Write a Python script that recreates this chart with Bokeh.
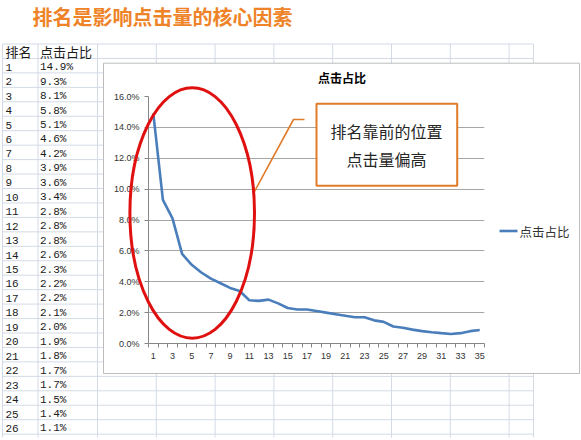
import numpy as np
from bokeh.plotting import figure
from bokeh.models import (Range1d, FixedTicker, NumeralTickFormatter, Label,
                          BoxAnnotation, ColumnDataSource)
from bokeh.core.properties import value
from bokeh.embed import file_html
from bokeh.resources import INLINE

# ---------------- data ----------------
ranks = list(range(1, 36))
click_share_pct = [14.9, 9.3, 8.1, 5.8, 5.1, 4.6, 4.2, 3.9, 3.6, 3.4,
                   2.8, 2.76, 2.84, 2.6, 2.3, 2.2, 2.2, 2.1, 2.0, 1.9,
                   1.8, 1.7, 1.7, 1.5, 1.4, 1.1, 1.02, 0.9, 0.8, 0.73,
                   0.67, 0.62, 0.67, 0.8, 0.88]
table_rows = 26
table_header = ["排名", "点击占比"]
series_name = "点击占比"
page_title = "排名是影响点击量的核心因素"
chart_title = "点击占比"
callout_lines = ["排名靠前的位置", "点击量偏高"]
x_tick_labels = list(range(1, 36, 2))
y_tick_values = [0.0, 0.02, 0.04, 0.06, 0.08, 0.10, 0.12, 0.14, 0.16]

# ---------------- layout constants ----------------
W, H = 581, 440
OFF = 0
FL, FR, FT, FB = 148, 484, 96, 343
XMIN, XMAX = 0.5, 35.5
YMIN, YMAX = 0.0, 0.16


def dx(px):
    return XMIN + (px - OFF - FL) * (XMAX - XMIN) / (FR - FL)


def dy(py):
    return YMIN + (FB - (py - OFF)) * (YMAX - YMIN) / (FB - FT)


CJK = "Noto Sans CJK SC"
ORANGE = "#EE8327"
CALLOUT = "#E07B2A"
GRID_SHEET = "#D3DAE6"
BLUE = "#4A7EBB"

p = figure(width=W, height=H, output_backend="svg", toolbar_location=None,
           x_range=Range1d(XMIN, XMAX), y_range=Range1d(YMIN, YMAX),
           min_border_left=FL, min_border_right=W - FR,
           min_border_top=FT, min_border_bottom=H - FB)
p.outline_line_color = None
p.background_fill_color = "white"
p.border_fill_color = "white"
p.xgrid.visible = False
p.ygrid.grid_line_color = "#A6A6A6"
p.ygrid.ticker = FixedTicker(ticks=y_tick_values)

# axes
p.yaxis.ticker = FixedTicker(ticks=y_tick_values)
p.yaxis.formatter = NumeralTickFormatter(format="0.0%")
p.yaxis.axis_line_color = "#868686"
p.yaxis.major_tick_line_color = "#868686"
p.yaxis.major_tick_out = 4
p.yaxis.major_tick_in = 0
p.yaxis.minor_tick_line_color = None
p.yaxis.major_label_standoff = 5
p.yaxis.major_label_text_font = "Liberation Sans"
p.yaxis.major_label_text_font_size = "9px"
p.yaxis.major_label_text_color = "#333333"

p.xaxis.ticker = FixedTicker(ticks=x_tick_labels,
                             minor_ticks=[r - 0.5 for r in ranks] + [ranks[-1] + 0.5])
p.xaxis.axis_line_color = "#868686"
p.xaxis.major_tick_line_color = None
p.xaxis.major_tick_out = 4
p.xaxis.major_tick_in = 0
p.xaxis.minor_tick_line_color = "#868686"
p.xaxis.minor_tick_out = 4
p.xaxis.minor_tick_in = 0
p.xaxis.major_label_standoff = 5
p.xaxis.major_label_text_font = "Liberation Sans"
p.xaxis.major_label_text_font_size = "9px"
p.xaxis.major_label_text_color = "#333333"

# spreadsheet grid (outside the chart box)
BOX_L, BOX_T, BOX_R, BOX_B = 103, 62.7, 579, 373
col_x = [2, 37.5, 97, 155.8, 214.6, 273.4, 332.2, 391, 449.8, 508.6, 533]
row_y = [43.5 + 14.45 * k for k in range(28)]
xs, ys = [], []
for cx in col_x:
    if BOX_L < cx < BOX_R:
        xs += [[dx(cx), dx(cx)], [dx(cx), dx(cx)]]
        ys += [[dy(43.5), dy(BOX_T)], [dy(BOX_B), dy(437)]]
    else:
        xs.append([dx(cx), dx(cx)])
        ys.append([dy(43.5), dy(437)])
for ry in row_y:
    if ry < BOX_T or ry > BOX_B:
        xs.append([dx(2), dx(533)])
    else:
        xs.append([dx(2), dx(BOX_L)])
    ys.append([dy(ry), dy(ry)])
p.multi_line(xs, ys, line_color=GRID_SHEET, line_width=1, level="overlay")

# chart box border
p.multi_line([[dx(BOX_L), dx(BOX_R), dx(BOX_R), dx(BOX_L), dx(BOX_L)]],
             [[dy(BOX_T), dy(BOX_T), dy(BOX_B), dy(BOX_B), dy(BOX_T)]],
             line_color="#BDBDBD", line_width=1, level="overlay")

# series
src = ColumnDataSource(dict(rank=ranks, share=[v / 100 for v in click_share_pct]))
line_r = p.line("rank", "share", source=src, line_color=BLUE, line_width=2.6)

# legend (drawn beside the plot area)
p.line([dx(499), dx(517)], [dy(230.5), dy(230.5)], line_color=BLUE, line_width=2.6,
       level="overlay")
p.text(x=[dx(519)], y=[dy(230.5)], text=[series_name], text_font=value(CJK),
       text_font_size="12.5px", text_color="#333333", text_baseline="middle",
       level="overlay")

# table
tbl_rank_x, tbl_val_x = 5, 39.5
p.text(x=[dx(tbl_rank_x), dx(tbl_val_x)], y=[dy(51), dy(51)], text=table_header,
       text_font=value(CJK), text_font_size="13px", text_color="#1a1a1a",
       text_baseline="middle", level="overlay")
p.text(x=[dx(tbl_rank_x)] * table_rows,
       y=[dy(59.5 + 14.45 * (k - 0.5)) for k in ranks[:table_rows]],
       text=[str(k) for k in ranks[:table_rows]],
       text_font=value("Liberation Mono"), text_font_size="11px", text_color="#1a1a1a",
       text_baseline="middle", level="overlay")
p.text(x=[dx(tbl_val_x)] * table_rows,
       y=[dy(59.5 + 14.45 * (k - 0.5)) for k in ranks[:table_rows]],
       text=["%.1f%%" % v for v in click_share_pct[:table_rows]],
       text_font=value("Liberation Mono"), text_font_size="11px", text_color="#1a1a1a",
       text_baseline="middle", level="overlay")

# titles
p.text(x=[dx(32)], y=[dy(15.5)], text=[page_title], text_font=value(CJK),
       text_font_size="20px", text_font_style="bold", text_color=ORANGE,
       text_baseline="middle", level="overlay")
p.text(x=[dx(341.5)], y=[dy(77)], text=[chart_title], text_font=value(CJK),
       text_font_size="12px", text_font_style="bold", text_color="#000000",
       text_align="center", text_baseline="middle", level="overlay")

# callout box and texts (inside the plot area)
p.add_layout(BoxAnnotation(left=dx(316), right=dx(456.7), top=dy(103.3), bottom=dy(185.3),
                           fill_color="white", fill_alpha=1, line_color=CALLOUT,
                           line_alpha=1, line_width=2))
p.add_layout(Label(x=dx(386), y=dy(130.5), text=callout_lines[0], text_font=CJK,
                   text_font_size="16px", text_color="#262626",
                   text_align="center", text_baseline="middle"))
p.add_layout(Label(x=dx(386), y=dy(158.5), text=callout_lines[1], text_font=CJK,
                   text_font_size="16px", text_color="#262626",
                   text_align="center", text_baseline="middle"))

# leader line
p.line([dx(252.7), dx(293), dx(304)], [dy(193.3), dy(119), dy(119)],
       line_color=CALLOUT, line_width=1.6, level="overlay")

# red ellipse
p.ellipse(x=[dx(191.7)], y=[dy(212.5)], width=[dx(254) - dx(129.4)],
          height=[dy(87.3) - dy(337.7)], fill_color=None, line_color="#E01010",
          line_width=3, level="overlay")

open("out.html", "w").write(file_html(p, INLINE))
